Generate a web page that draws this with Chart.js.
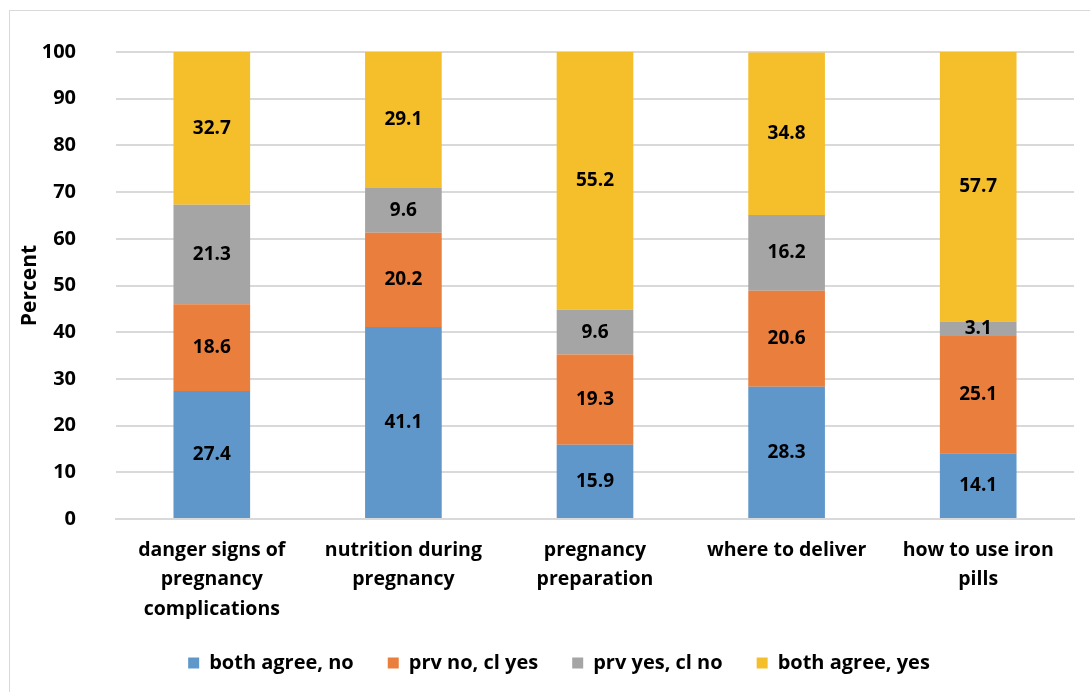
<!DOCTYPE html>
<html>
<head>
<meta charset="utf-8">
<script src="https://cdn.jsdelivr.net/npm/chart.js@4"></script>
<style>
  html, body { margin: 0; padding: 0; background: #fff; }
  #frame { position: absolute; left: 9px; top: 10px; width: 1100px; height: 700px; border: 1px solid #D9D9D9; box-sizing: border-box; }
  #wrap { position: absolute; left: 0; top: 0; width: 1090px; height: 692px; }
</style>
</head>
<body>
<div id="frame"></div>
<div id="wrap"><canvas id="c" width="1090" height="692"></canvas></div>
<script>
const categories = [
  ['danger signs of', 'pregnancy', 'complications'],
  ['nutrition during', 'pregnancy'],
  ['pregnancy', 'preparation'],
  ['where to deliver'],
  ['how to use iron', 'pills']
];
const seriesNames = ['both agree, no', 'prv no, cl yes', 'prv yes, cl no', 'both agree, yes'];
const bothAgreeNo  = [27.4, 41.1, 15.9, 28.3, 14.1];
const prvNoClYes   = [18.6, 20.2, 19.3, 20.6, 25.1];
const prvYesClNo   = [21.3, 9.6, 9.6, 16.2, 3.1];
const bothAgreeYes = [32.7, 29.1, 55.2, 34.8, 57.7];
const seriesColors = ['#5F97CB', '#E97E3D', '#A5A5A5', '#F5BE2B'];
const yTicks = [0, 10, 20, 30, 40, 50, 60, 70, 80, 90, 100];

const FONT = '"Open Sans", "Noto Sans", sans-serif';

// Writes each segment's value in the middle of its bar piece
const segmentLabels = {
  id: 'segmentLabels',
  afterDatasetsDraw(chart) {
    const ctx = chart.ctx;
    ctx.save();
    ctx.font = 'bold 19px ' + FONT;
    ctx.fillStyle = '#000';
    ctx.textAlign = 'center';
    ctx.textBaseline = 'middle';
    chart.data.datasets.forEach((ds, i) => {
      chart.getDatasetMeta(i).data.forEach((bar, j) => {
        const v = ds.data[j];
        const y = (bar.y + bar.base) / 2;
        ctx.fillText(v.toFixed(1), bar.x, y);
      });
    });
    ctx.restore();
  }
};

// Centres the legend under the plot area rather than the whole canvas
const legendCentre = {
  id: 'legendCentre',
  afterLayout(chart) {
    const lg = chart.legend;
    if (!lg) return;
    const shift = 22;
    lg.left += shift;
    lg.right += shift;
  }
};

const seriesData = [bothAgreeNo, prvNoClYes, prvYesClNo, bothAgreeYes];

new Chart(document.getElementById('c'), {
  type: 'bar',
  data: {
    labels: categories,
    datasets: seriesNames.map((name, i) => ({
      label: name,
      data: seriesData[i],
      backgroundColor: seriesColors[i],
      borderWidth: 0,
      categoryPercentage: 1.0,
      barPercentage: 0.4
    }))
  },
  options: {
    responsive: false,
    animation: false,
    devicePixelRatio: 1,
    layout: { padding: { left: 0, right: 16, top: 49, bottom: 9 } },
    plugins: {
      tooltip: { enabled: false },
      legend: {
        position: 'bottom',
        labels: {
          color: '#000',
          font: { family: FONT, size: 20, weight: 'bold' },
          boxWidth: 11,
          boxHeight: 11,
          padding: 34
        }
      }
    },
    scales: {
      x: {
        stacked: true,
        grid: { display: false, drawTicks: false },
        border: { display: true, color: '#D9D9D9', width: 2 },
        ticks: {
          color: '#000',
          font: { family: FONT, size: 19.5, weight: 'bold', lineHeight: 1.5 },
          padding: 17,
          maxRotation: 0,
          autoSkip: false
        },
        afterFit(scale) { scale.height = 100; }
      },
      y: {
        stacked: true,
        min: 0,
        max: 100,
        afterBuildTicks(scale) { scale.ticks = yTicks.map(v => ({ value: v })); },
        grid: { color: '#D9D9D9', lineWidth: 2, drawTicks: false },
        border: { display: false },
        ticks: {
          color: '#000',
          font: { family: FONT, size: 20, weight: 'bold' },
          padding: 40
        },
        title: {
          display: true,
          text: 'Percent',
          color: '#000',
          font: { family: FONT, size: 21, weight: 'bold' },
          padding: { top: 17, bottom: 0 }
        },
        afterFit(scale) { scale.width = 116; }
      }
    }
  },
  plugins: [segmentLabels, legendCentre]
});
</script>
</body>
</html>
